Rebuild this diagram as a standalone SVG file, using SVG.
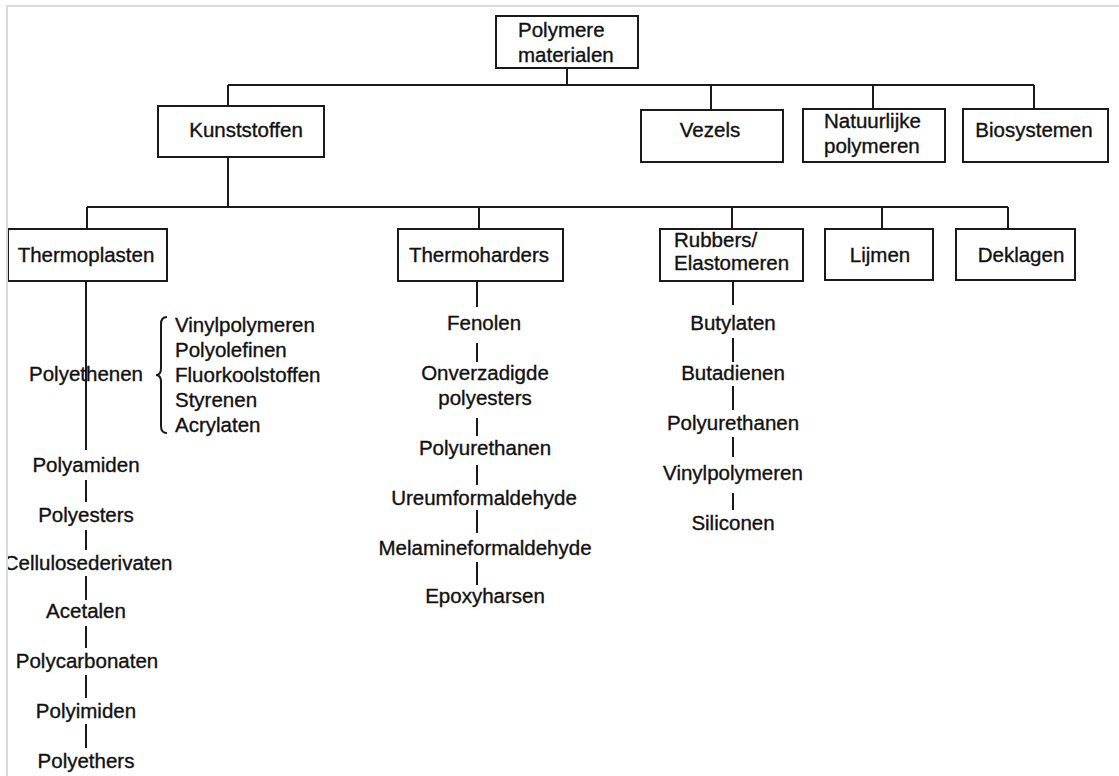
<svg xmlns="http://www.w3.org/2000/svg" width="1119" height="776" viewBox="0 0 1119 776">
<style>
  .box { fill: #fff; stroke: #1a1a1a; stroke-width: 2; }
  .ln { fill: none; stroke: #1a1a1a; stroke-width: 2; }
  text { font-family: "Liberation Sans", Arial, sans-serif; font-size: 20.5px; fill: #111; stroke: #111; stroke-width: 0.35; }
  .c { text-anchor: middle; }
</style>
<defs>
  <clipPath id="frame"><rect x="8" y="7" width="1111" height="769"/></clipPath>
</defs>
<rect x="0" y="0" width="1119" height="776" fill="#fff"/>
<path d="M7,776 V6 H1119" fill="none" stroke="#cfcfcf" stroke-width="1.5"/>
<g clip-path="url(#frame)">
<g id="connectors">
  <path class="ln" d="M567,68 V85 M228,85 H1034 M228,85 V106 M711,85 V110 M873,85 V109 M1034,85 V109"/>
  <path class="ln" d="M228,157 V207 M87,207 H1008 M87,207 V229 M479,207 V229 M732,207 V229 M882,207 V229 M1008,207 V229"/>
  <path class="ln" d="M86,281 V450 M86,480 V502 M86,530 V550 M86,576 V600 M86,626 V648 M86,675 V698 M86,724 V748"/>
  <path class="ln" d="M167,317 Q161,317 161,324 V368 Q161,375 156,375 Q161,375 161,382 V426 Q161,433 167,433"/>
  <path class="ln" d="M477,281 V307 M477,343 V362 M477,418 V436 M477,465 V485 M477,510 V533 M477,562 V585"/>
  <path class="ln" d="M733,281 V305 M733,338 V362 M733,386 V410 M733,437 V457 M733,493 V510"/>
</g>
<g id="n-polymere"><rect class="box" x="496" y="16" width="142" height="52"/><text x="518" y="37">Polymere</text><text x="518" y="62">materialen</text></g>
<g id="n-kunststoffen"><rect class="box" x="158" y="106" width="166" height="51"/><text class="c" x="246" y="137">Kunststoffen</text></g>
<g id="n-vezels"><rect class="box" x="641" y="110" width="142" height="52"/><text class="c" x="710" y="137">Vezels</text></g>
<g id="n-natuurlijke"><rect class="box" x="803" y="109" width="142" height="53"/><text x="824" y="128">Natuurlijke</text><text x="824" y="153">polymeren</text></g>
<g id="n-biosystemen"><rect class="box" x="963" y="109" width="145" height="53"/><text class="c" x="1034" y="137">Biosystemen</text></g>
<g id="n-thermoplasten"><rect class="box" x="8" y="229" width="159" height="52"/><text class="c" x="86" y="262">Thermoplasten</text></g>
<g id="n-thermoharders"><rect class="box" x="398" y="229" width="165" height="52"/><text class="c" x="479" y="262">Thermoharders</text></g>
<g id="n-rubbers"><rect class="box" x="660" y="229" width="143" height="52"/><text x="674" y="247">Rubbers/</text><text x="674" y="270">Elastomeren</text></g>
<g id="n-lijmen"><rect class="box" x="825" y="229" width="108" height="51"/><text class="c" x="880" y="262">Lijmen</text></g>
<g id="n-deklagen"><rect class="box" x="956" y="229" width="119" height="51"/><text class="c" x="1021" y="262">Deklagen</text></g>
<g id="thermoplasten-list">
  <text class="c" x="86" y="381">Polyethenen</text>
  <text x="175" y="332">Vinylpolymeren</text>
  <text x="175" y="357">Polyolefinen</text>
  <text x="175" y="382">Fluorkoolstoffen</text>
  <text x="175" y="407">Styrenen</text>
  <text x="175" y="432">Acrylaten</text>
  <text class="c" x="86" y="472">Polyamiden</text>
  <text class="c" x="86" y="522">Polyesters</text>
  <text class="c" x="88" y="570">Cellulosederivaten</text>
  <text class="c" x="86" y="618">Acetalen</text>
  <text class="c" x="87" y="668">Polycarbonaten</text>
  <text class="c" x="86" y="718">Polyimiden</text>
  <text class="c" x="86" y="768">Polyethers</text>
</g>
<g id="thermoharders-list">
  <text class="c" x="484" y="330">Fenolen</text>
  <text class="c" x="485" y="380">Onverzadigde</text>
  <text class="c" x="485" y="405">polyesters</text>
  <text class="c" x="485" y="455">Polyurethanen</text>
  <text class="c" x="484" y="505">Ureumformaldehyde</text>
  <text class="c" x="485" y="555">Melamineformaldehyde</text>
  <text class="c" x="485" y="603">Epoxyharsen</text>
</g>
<g id="rubbers-list">
  <text class="c" x="733" y="330">Butylaten</text>
  <text class="c" x="733" y="380">Butadienen</text>
  <text class="c" x="733" y="430">Polyurethanen</text>
  <text class="c" x="733" y="480">Vinylpolymeren</text>
  <text class="c" x="733" y="530">Siliconen</text>
</g>
</g>
</svg>
